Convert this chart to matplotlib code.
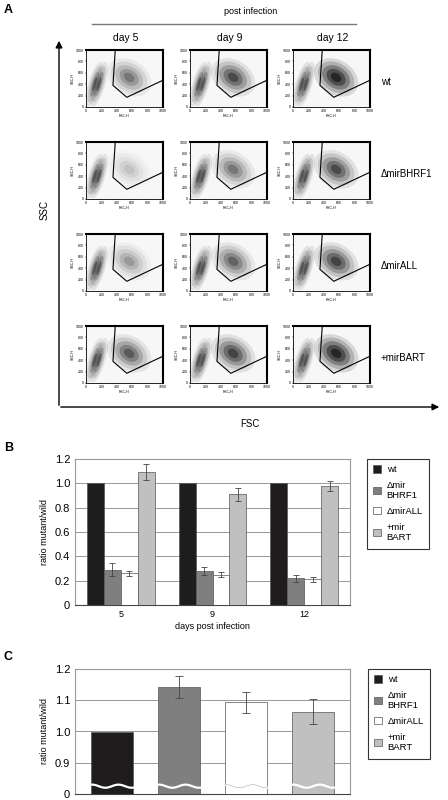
import matplotlib
matplotlib.use("Agg")
import matplotlib.pyplot as plt
import numpy as np
from matplotlib.patches import Polygon, Ellipse, Patch

plt.rcParams['font.family'] = ['Liberation Sans', 'DejaVu Sans']

# ---------------- data ----------------
days_A = ["day 5", "day 9", "day 12"]
strains_A = ["wt", "ΔmirBHRF1", "ΔmirALL", "+mirBART"]
# visual density of the gated (live B-cell) cloud in each dot plot, rows=strains, cols=days
gate_density = [[0.45, 0.7, 1.0],
                [0.15, 0.45, 0.7],
                [0.3, 0.55, 0.75],
                [0.6, 0.75, 1.0]]
gate_x = [380, 350, 530, 1000, 1000]
gate_y = [1000, 380, 170, 470, 1000]
dot_ticks = [0, 200, 400, 600, 800, 1000]

days_B = ["5", "9", "12"]
series = ["wt", "Δmir\nBHRF1", "ΔmirALL", "+mir\nBART"]
wt_B = [1.0, 1.0, 1.0]
bhrf1_B = [0.29, 0.28, 0.22]
bhrf1_B_err = [0.055, 0.035, 0.03]
all_B = [0.26, 0.25, 0.21]
all_B_err = [0.02, 0.02, 0.02]
bart_B = [1.09, 0.91, 0.98]
bart_B_err = [0.065, 0.055, 0.04]
B_ticks = [0, 0.2, 0.4, 0.6, 0.8, 1.0, 1.2]
B_ticklabels = ["0", "0.2", "0.4", "0.6", "0.8", "1.0", "1.2"]

C_values = [1.0, 1.142, 1.093, 1.064]
C_err = [0.0, 0.034, 0.033, 0.04]
C_ticks = [0.8, 0.9, 1.0, 1.1, 1.2]
C_ticklabels = ["0", "0.9", "1.0", "1.1", "1.2"]

colors = ["#1e1c1d", "#7f7f7f", "#ffffff", "#c0c0c0"]

W, H = 448, 800
fig = plt.figure(figsize=(W / 100, H / 100), dpi=100)

def ax_px(x0, y0, x1, y1, **kw):
    return fig.add_axes([x0 / W, 1 - y1 / H, (x1 - x0) / W, (y1 - y0) / H], **kw)

ov = fig.add_axes([0, 0, 1, 1])
ov.set_xlim(0, W); ov.set_ylim(H, 0); ov.axis("off")

# ---------------- Panel A ----------------
ov.text(4, 10, "A", fontsize=9, fontweight="bold", va="center")
ov.text(251, 11, "post infection", fontsize=6.5, ha="center", va="center")
ov.plot([92, 356], [24, 24], color="#777777", lw=1)
ov.annotate("", xy=(59, 38), xytext=(59, 408),
            arrowprops=dict(arrowstyle="-|>", color="black", lw=1, mutation_scale=10))
ov.annotate("", xy=(442, 407), xytext=(58, 407),
            arrowprops=dict(arrowstyle="-|>", color="black", lw=1, mutation_scale=10))
ov.text(45, 210, "SSC", fontsize=7, rotation=90, ha="center", va="center")
ov.text(250, 424, "FSC", fontsize=7, ha="center", va="center")

col_x = [86, 190, 293]
row_y = [50, 142, 234, 326]
for j, d in enumerate(days_A):
    ov.text(col_x[j] + 40, 38, d, fontsize=7.5, ha="center", va="center")
for i, s in enumerate(strains_A):
    ov.text(381, row_y[i] + 32, s, fontsize=7, ha="left", va="center")
    for j in range(3):
        a = ax_px(col_x[j], row_y[i], col_x[j] + 77, row_y[i] + 57)
        a.set_xlim(0, 1000); a.set_ylim(0, 1000)
        a.set_facecolor("#f7f7f7")
        for cx in [110, 170]:
            for w, h, al in [(160, 800, 0.08), (120, 650, 0.12), (80, 450, 0.2), (40, 250, 0.35)]:
                a.add_patch(Ellipse((cx, 400), w, h, angle=-12, color="black", alpha=al, lw=0))
        dens = gate_density[i][j]
        for w, h, al in [(520, 720, 0.12), (420, 600, 0.18), (320, 460, 0.28), (220, 320, 0.38), (120, 180, 0.5)]:
            a.add_patch(Ellipse((560, 520), w, h, angle=30, color="black", alpha=al * dens, lw=0))
        a.add_patch(Polygon(list(zip(gate_x, gate_y)), closed=True, fill=False, ec="black", lw=0.8))
        a.set_xticks(dot_ticks); a.set_yticks(dot_ticks)
        a.set_xticklabels(dot_ticks, fontsize=2.5); a.set_yticklabels(dot_ticks, fontsize=2.5)
        a.tick_params(length=1, width=0.3, pad=0.5)
        a.set_xlabel("FSC-H", fontsize=2.5, labelpad=0.5)
        a.set_ylabel("SSC-H", fontsize=2.5, labelpad=0.5)
        for sp in a.spines.values():
            sp.set_linewidth(0.6)
        a.spines["top"].set_linewidth(1.5); a.spines["right"].set_linewidth(1.5)

# ---------------- Panel B ----------------
ov.text(4, 448, "B", fontsize=9, fontweight="bold", va="center")
axB = ax_px(75, 459, 350, 605)
x = np.arange(len(days_B))
bw = 0.185
vals = [wt_B, bhrf1_B, all_B, bart_B]
errs = [None, bhrf1_B_err, all_B_err, bart_B_err]
for k in range(4):
    axB.bar(x + (k - 1.5) * bw, vals[k], bw, color=colors[k], edgecolor="#555555", lw=0.5,
            yerr=errs[k], error_kw=dict(ecolor="#444444", elinewidth=0.6, capsize=2, capthick=0.6),
            zorder=3, label=series[k])
axB.set_ylim(0, 1.2); axB.set_xlim(-0.5, 2.5)
axB.set_yticks(B_ticks); axB.set_yticklabels(B_ticklabels, fontsize=8)
axB.set_xticks(x); axB.set_xticklabels(days_B, fontsize=6.5)
axB.tick_params(length=0)
axB.grid(axis="y", color="#888888", lw=0.6, zorder=0)
for sp in axB.spines.values():
    sp.set_color("#999999"); sp.set_linewidth(0.8)
axB.spines["bottom"].set_color("#444444")
axB.set_ylabel("ratio mutant/wild", fontsize=6.5)
axB.set_xlabel("days post infection", fontsize=6.5, labelpad=2)
legB = fig.legend(*axB.get_legend_handles_labels(), loc="upper left",
                  bbox_to_anchor=(362 / W, 1 - 454 / H), fontsize=6.8, frameon=True,
                  fancybox=False, edgecolor="black", handlelength=0.8, handleheight=0.8,
                  labelspacing=0.7, borderpad=0.7, handletextpad=0.6)
legB.get_frame().set_linewidth(0.8)

# ---------------- Panel C ----------------
ov.text(4, 657, "C", fontsize=9, fontweight="bold", va="center")
axC = ax_px(75, 669, 350, 794)
xc = np.arange(4)
axC.bar(xc, np.array(C_values) - 0.8, 0.63, bottom=0.8, color=colors, edgecolor="#555555",
        lw=0.5, zorder=3)
for k in range(1, 4):
    axC.errorbar(xc[k], C_values[k], yerr=C_err[k], color="#444444", elinewidth=0.6,
                 capsize=3, capthick=0.6, zorder=4)
for k in range(4):
    t = np.linspace(-0.315, 0.315, 40)
    yy = 0.825 + 0.005 * np.sin(t * 16)
    axC.plot(xc[k] + t, yy, color="white", lw=1.6, zorder=5)
    if k == 2:
        axC.plot(xc[k] + t, yy, color="#bbbbbb", lw=0.5, zorder=6)
axC.set_ylim(0.8, 1.2); axC.set_xlim(-0.55, 3.55)
axC.set_yticks(C_ticks); axC.set_yticklabels(C_ticklabels, fontsize=8)
axC.set_xticks([])
axC.tick_params(length=0)
axC.grid(axis="y", color="#888888", lw=0.6, zorder=0)
for sp in axC.spines.values():
    sp.set_color("#999999"); sp.set_linewidth(0.8)
axC.spines["bottom"].set_color("#444444")
axC.set_ylabel("ratio mutant/wild", fontsize=6.5)
handles = [Patch(facecolor=colors[k], edgecolor="#555555", lw=0.5) for k in range(4)]
legC = fig.legend(handles, series, loc="upper left", bbox_to_anchor=(363 / W, 1 - 664 / H),
                  fontsize=6.8, frameon=True, fancybox=False, edgecolor="black",
                  handlelength=0.8, handleheight=0.8, labelspacing=0.7, borderpad=0.7,
                  handletextpad=0.6)
legC.get_frame().set_linewidth(0.8)

fig.savefig("out.png", dpi=100)
